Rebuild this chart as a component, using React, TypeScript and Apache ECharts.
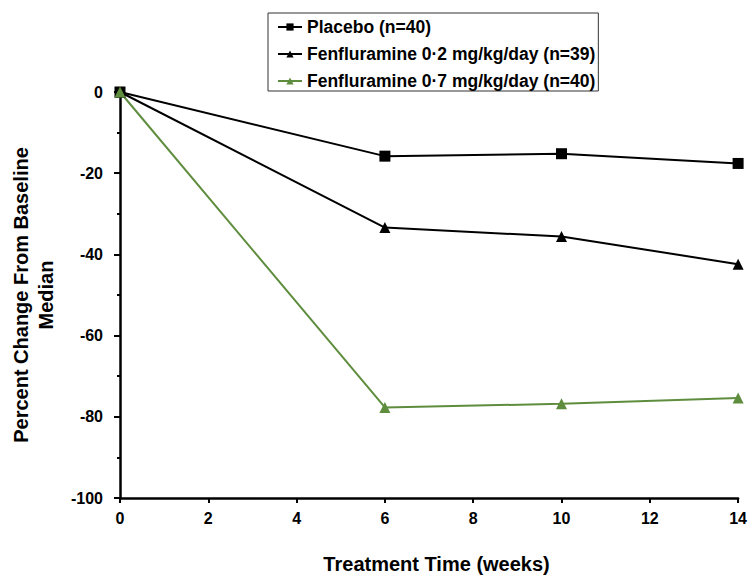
import React, { useEffect, useRef } from "react";
import * as echarts from "echarts";

const weeks = [0, 6, 10, 14];
const placebo = [0, -15.8, -15.2, -17.6];
const fen02 = [0, -33.4, -35.6, -42.4];
const fen07 = [0, -77.7, -76.8, -75.4];
const seriesNames = [
  "Placebo (n=40)",
  "Fenfluramine 0\u00B72 mg/kg/day (n=39)",
  "Fenfluramine 0\u00B77 mg/kg/day (n=40)",
];
const xTitle = "Treatment Time (weeks)";
const yTitle = "Percent Change From Baseline\nMedian";

const FONT = "'Liberation Sans', Arial, sans-serif";
const GREEN = "#5f8d3e";

export default function App() {
  const ref = useRef<HTMLDivElement>(null);
  useEffect(() => {
    if (!ref.current) return;
    const chart = echarts.init(ref.current, undefined, { renderer: "svg" });
    const toPairs = (arr: number[]) => arr.map((v, i) => [weeks[i], v]);
    chart.setOption({
      animation: false,
      backgroundColor: "#ffffff",
      grid: { left: 120, right: 11, top: 92, bottom: 77, containLabel: false },
      legend: {
        orient: "vertical",
        left: 268,
        top: 13,
        padding: [5, 3, 1, 9],
        itemGap: 9,
        itemWidth: 24,
        itemHeight: 9,
        borderColor: "#333",
        borderWidth: 1,
        align: "left",
        textStyle: { fontFamily: FONT, fontSize: 17.5, fontWeight: "bold", color: "#000" },
        data: seriesNames,
      },
      xAxis: {
        type: "value",
        min: 0,
        max: 14,
        interval: 2,
        name: xTitle,
        nameLocation: "middle",
        nameGap: 56,
        nameTextStyle: { fontFamily: FONT, fontSize: 20, fontWeight: "bold", color: "#000", padding: [0, 0, 0, 15] },
        axisLine: { show: true, onZero: false, lineStyle: { color: "#000", width: 2.5 } },
        axisTick: { show: true, inside: false, length: 5, lineStyle: { color: "#000", width: 2 } },
        axisLabel: { margin: 12, fontFamily: FONT, fontSize: 16, fontWeight: "bold", color: "#000" },
        splitLine: { show: false },
      },
      yAxis: {
        type: "value",
        min: -100,
        max: 0,
        interval: 20,
        name: yTitle,
        nameLocation: "middle",
        nameRotate: 90,
        nameGap: 62,
        nameTextStyle: { fontFamily: FONT, fontSize: 20, fontWeight: "bold", color: "#000", lineHeight: 25, align: "center" },
        axisLine: { show: true, onZero: false, lineStyle: { color: "#000", width: 2.5 } },
        axisTick: { show: true, inside: false, length: 6, lineStyle: { color: "#000", width: 2 } },
        minorTick: { show: true, splitNumber: 2, length: 3, lineStyle: { color: "#000", width: 2 } },
        axisLabel: { margin: 17, fontFamily: FONT, fontSize: 16, fontWeight: "bold", color: "#000" },
        splitLine: { show: false },
      },
      series: [
        {
          name: seriesNames[0],
          type: "line",
          data: toPairs(placebo),
          symbol: "rect",
          symbolSize: 11,
          clip: false,
          lineStyle: { color: "#000", width: 2 },
          itemStyle: { color: "#000" },
        },
        {
          name: seriesNames[1],
          type: "line",
          data: toPairs(fen02),
          symbol: "triangle",
          symbolSize: 11,
          clip: false,
          lineStyle: { color: "#000", width: 2 },
          itemStyle: { color: "#000" },
        },
        {
          name: seriesNames[2],
          type: "line",
          data: toPairs(fen07),
          symbol: "triangle",
          symbolSize: 11,
          clip: false,
          lineStyle: { color: GREEN, width: 2 },
          itemStyle: { color: GREEN },
        },
      ],
    });
    return () => chart.dispose();
  }, []);
  return <div ref={ref} style={{ width: 750, height: 579, position: "absolute", left: 0, top: 0 }} />;
}
